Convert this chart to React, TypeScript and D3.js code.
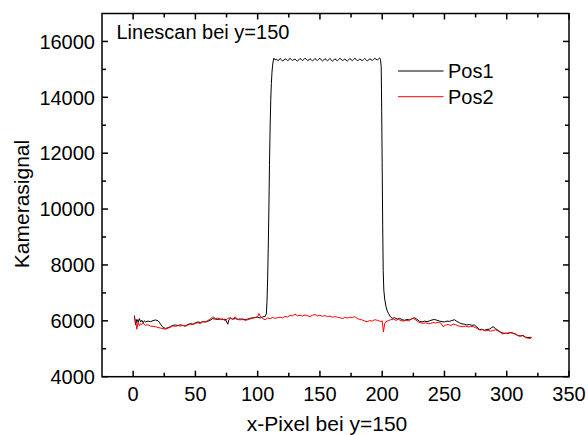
import React from "react";
import * as d3 from "d3";

const pos1X = [1,2,3,4,5,6,7,8,9,10,12,14,16,18,20,21,22,23,24,26,28,30,32,34,36,38,40,42,44,46,48,50,52,54,56,58,60,62,64,66,68,70,72,74,76,77,78,80,82,84,86,88,90,92,94,96,98,100,102,104,106,107,107.5,108,108.5,109,109.5,110,110.5,111,111.5,112,112.6,113,114,115,116,117,118,119,120,121,122,123,124,125,126,127,128,129,130,131,132,133,134,135,136,137,138,139,140,141,142,143,144,145,146,147,148,149,150,151,152,153,154,155,156,157,158,159,160,161,162,163,164,165,166,167,168,169,170,171,172,173,174,175,176,177,178,179,180,181,182,183,184,185,186,187,188,189,190,191,192,193,194,195,196,197,198,198.6,199.2,199.6,200,200.4,200.8,201.3,202,203,204,205,206.5,208,210,212,214,216,218,220,222,224,226,228,230,232,234,236,238,240,242,244,246,248,250,252,254,256,258,260,262,264,266,268,270,272,274,276,278,280,282,284,286,288,289,291,293,295,297,299,301,303,305,307,309,311,313,315,317,319,320];
const pos1Y = [6190,5850,6050,5950,6080,5960,6020,5930,6000,5960,5990,5970,6010,6030,6000,5950,5880,5820,5760,5730,5750,5790,5840,5850,5830,5860,5830,5820,5870,5900,5880,5930,5960,5940,5970,5960,5980,6030,6080,6060,6050,6070,6040,6060,5880,6050,6090,6060,6080,6050,6070,6040,6050,6060,6090,6110,6120,6130,6100,6140,6160,6250,6700,7500,8600,10000,11600,12900,13900,14500,14900,15150,15330,15400,
15340,15370,15320,15330,15390,15350,15300,15330,15380,15360,15310,15340,15400,15350,15320,15350,15370,15320,15300,15340,15390,15360,15310,15350,15400,15370,15320,15330,15380,15350,15300,15340,15390,15350,15320,15360,15400,15340,15300,15330,15380,15350,15310,15340,15390,15350,15290,15330,15380,15340,15310,15350,15400,15360,15320,15340,15370,15330,15300,15340,15390,15350,15310,15350,15400,15360,15310,15330,15370,15340,15310,15350,15390,15350,15300,15330,15380,15350,15320,15350,15400,15360,15340,15370,15410,
15360,15100,13500,11500,9400,7800,7100,6780,6520,6360,6270,6150,6090,6110,6060,6090,6040,6020,6050,6030,6080,6110,6050,5980,5960,5990,5970,6000,6030,6050,6020,5990,5970,5960,5990,5980,6010,6040,5980,5930,5890,5880,5850,5870,5840,5850,5780,5680,5700,5660,5690,5700,5760,5790,5720,5660,5600,5560,5550,5560,5580,5560,5530,5470,5460,5480,5420,5400,5410,5400];

const pos2X = [1,2,3,4,5,6,7,8,10,12,14,16,18,20,22,24,26,28,30,32,34,36,38,40,42,44,46,48,50,52,54,56,58,60,62,64,66,68,70,72,74,76,78,80,82,84,86,88,90,92,94,96,98,100,101,102,104,106,108,110,112,114,116,118,120,122,124,126,128,130,132,134,136,138,140,142,144,146,148,150,152,154,156,158,160,162,164,166,168,170,172,174,176,178,180,182,184,186,188,190,192,194,196,198,199,200,201,202,203,205,207,209,211,213,215,217,219,221,223,225,227,229,231,233,235,237,239,241,243,245,247,249,251,253,255,257,259,261,263,265,267,269,271,273,275,277,279,281,283,285,287,289,291,293,295,297,299,301,303,305,307,309,311,313,315,317,319,320];
const pos2Y = [6120,5980,5700,5950,5830,5900,5870,5920,5840,5860,5810,5800,5790,5760,5740,5720,5700,5740,5770,5820,5800,5830,5810,5840,5800,5850,5880,5870,5910,5930,5900,5970,5960,6010,6060,6150,6080,6100,6040,6070,6000,6090,6110,6060,6140,6050,6030,6080,6010,6040,6070,6090,6120,6150,6260,6180,6080,6040,6100,6080,6120,6090,6110,6130,6100,6160,6140,6190,6180,6240,6180,6200,6170,6210,6180,6150,6200,6225,6180,6200,6160,6190,6150,6170,6130,6150,6130,6110,6080,6120,6100,6130,6120,6150,6080,6050,6030,5990,5970,6010,5990,6040,6020,5990,5970,6000,5600,5900,5970,6010,6040,6060,6020,6050,6010,5990,6020,6000,6060,6090,6030,5960,5930,5910,5930,5900,5910,5940,5920,5950,5920,5790,5850,5870,5830,5880,5860,5820,5800,5790,5810,5780,5800,5790,5760,5700,5670,5690,5640,5660,5630,5650,5680,5640,5580,5530,5560,5540,5570,5550,5520,5470,5450,5470,5400,5380,5370,5400];

const xTickValues = [0, 50, 100, 150, 200, 250, 300, 350];
const xMinorValues = [25, 75, 125, 175, 225, 275, 325];
const yTickValues = [4000, 6000, 8000, 10000, 12000, 14000, 16000];
const yMinorValues = [5000, 7000, 9000, 11000, 13000, 15000];

const seriesNames = ["Pos1", "Pos2"];
const seriesColors = ["#000000", "#ff0000"];

const W = 588, H = 435;
const L = 102, R = 569, T = 13.5, B = 376.7;
const FONT = "'Liberation Sans', Arial, sans-serif";

export default function App() {
  const x = d3.scaleLinear().domain([-25, 350]).range([L, R]);
  const y = d3.scaleLinear().domain([4000, 17000]).range([B, T]);
  const line = d3.line<[number, number]>().x(d => x(d[0])).y(d => y(d[1]));
  const d1 = line(pos1X.map((v, i) => [v, pos1Y[i]] as [number, number])) || "";
  const d2 = line(pos2X.map((v, i) => [v, pos2Y[i]] as [number, number])) || "";
  const maj = 6, mnr = 4;
  return (
    <svg width={W} height={H} style={{ position: "absolute", left: 0, top: 0, background: "#fff" }} fontFamily={FONT}>
      <defs>
        <clipPath id="plot"><rect x={L} y={T} width={R - L} height={B - T} /></clipPath>
      </defs>
      <g clipPath="url(#plot)">
        <path d={d1} fill="none" stroke={seriesColors[0]} strokeWidth={1} />
        <path d={d2} fill="none" stroke={seriesColors[1]} strokeWidth={1} />
      </g>
      <g stroke="#000" strokeWidth={1.5}>
        {xTickValues.map(v => (
          <g key={"xt" + v}>
            <line x1={x(v)} x2={x(v)} y1={B} y2={B - maj} />
            <line x1={x(v)} x2={x(v)} y1={T} y2={T + maj} />
          </g>
        ))}
        {xMinorValues.map(v => (
          <g key={"xm" + v}>
            <line x1={x(v)} x2={x(v)} y1={B} y2={B - mnr} />
            <line x1={x(v)} x2={x(v)} y1={T} y2={T + mnr} />
          </g>
        ))}
        {yTickValues.map(v => (
          <g key={"yt" + v}>
            <line x1={L} x2={L + maj} y1={y(v)} y2={y(v)} />
            <line x1={R} x2={R - maj} y1={y(v)} y2={y(v)} />
          </g>
        ))}
        {yMinorValues.map(v => (
          <g key={"ym" + v}>
            <line x1={L} x2={L + mnr} y1={y(v)} y2={y(v)} />
            <line x1={R} x2={R - mnr} y1={y(v)} y2={y(v)} />
          </g>
        ))}
        <rect x={L} y={T} width={R - L} height={B - T} fill="none" />
      </g>
      <g fontSize={20} fill="#000">
        {xTickValues.map(v => (
          <text key={"xl" + v} x={x(v)} y={B + 24} textAnchor="middle">{v}</text>
        ))}
        {yTickValues.map(v => (
          <text key={"yl" + v} x={L - 7} y={y(v) + 7.2} textAnchor="end">{v}</text>
        ))}
      </g>
      <text x={327} y={431} fontSize={21} textAnchor="middle">x-Pixel bei y=150</text>
      <text transform={`translate(28.5, 204) rotate(-90)`} fontSize={21} textAnchor="middle">Kamerasignal</text>
      <text x={116.5} y={39.3} fontSize={20}>Linescan bei y=150</text>
      {seriesNames.map((n, i) => (
        <g key={n}>
          <line x1={398} x2={443.5} y1={71 + i * 25.7} y2={71 + i * 25.7} stroke={seriesColors[i]} strokeWidth={1} />
          <text x={448} y={78.3 + i * 25.7} fontSize={20}>{n}</text>
        </g>
      ))}
    </svg>
  );
}
